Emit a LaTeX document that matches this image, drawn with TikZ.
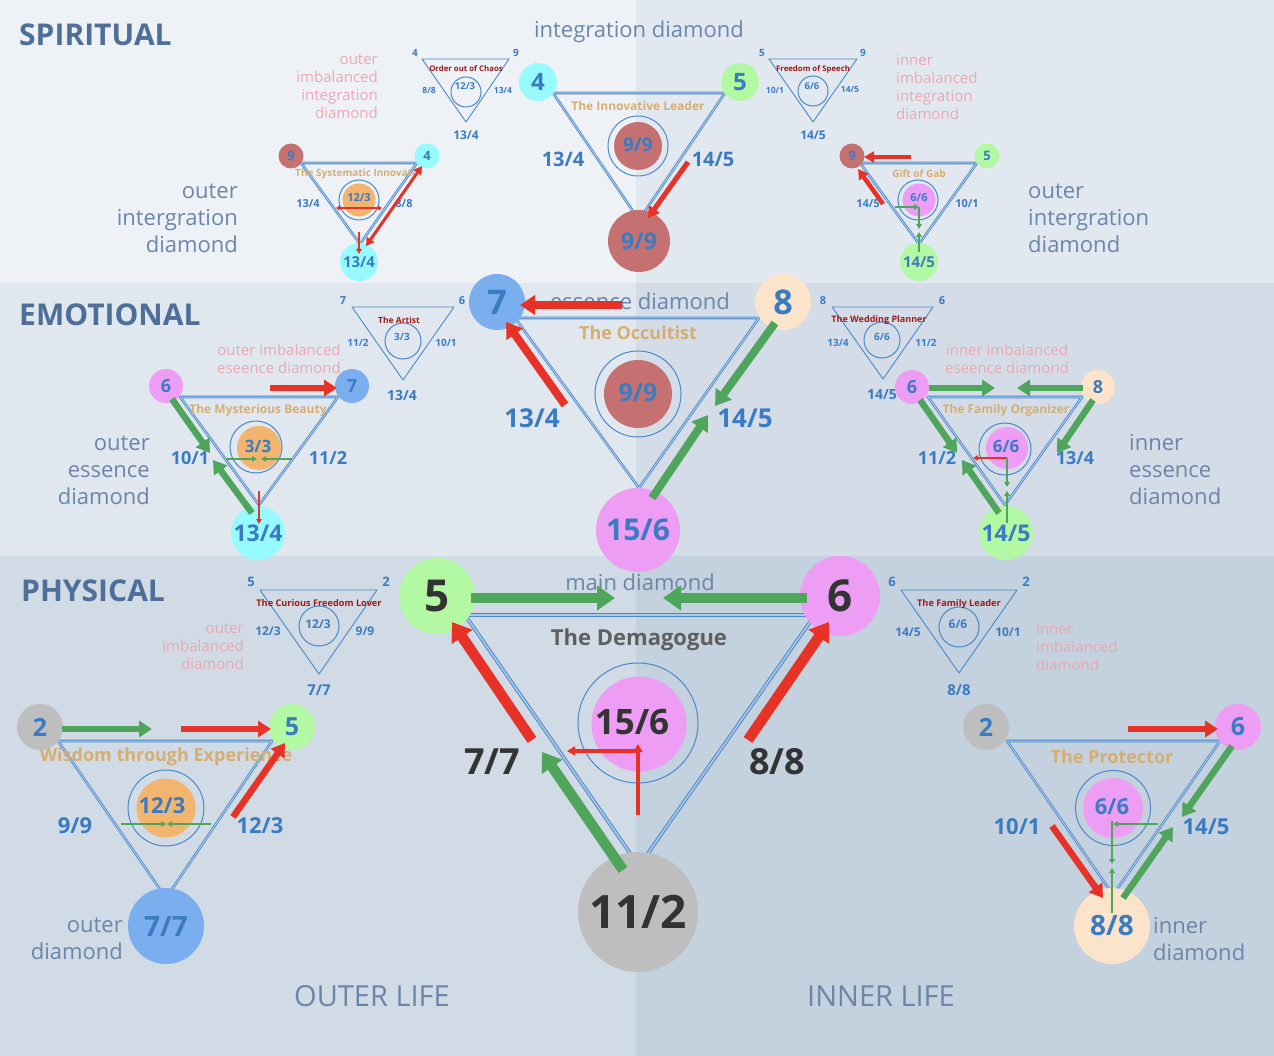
\documentclass[tikz,border=0pt]{standalone}
\usepackage{fontspec}
\setmainfont{Open Sans}
\usetikzlibrary{arrows.meta}
\definecolor{bgA}{HTML}{EEF2F7}
\definecolor{bgB}{HTML}{E2E8F0}
\definecolor{bgC}{HTML}{E0E7EF}
\definecolor{bgD}{HTML}{D4DDE7}
\definecolor{bgE}{HTML}{D1DBE5}
\definecolor{bgF}{HTML}{C4D1DE}
\definecolor{nblue}{HTML}{3A7BC2}
\definecolor{tline}{HTML}{4A88C8}
\definecolor{tantxt}{HTML}{D6AE72}
\definecolor{dred}{HTML}{9B1B1B}
\definecolor{pinklbl}{HTML}{EBA9B1}
\definecolor{slate}{HTML}{6A86A8}
\definecolor{sect}{HTML}{4E6F97}
\definecolor{rarrow}{HTML}{E63227}
\definecolor{garrow}{HTML}{4FA55B}
\definecolor{ccyan}{HTML}{96FAFF}
\definecolor{cgreen}{HTML}{B3F8A2}
\definecolor{cpink}{HTML}{EE9DF5}
\definecolor{cblue}{HTML}{7BAEEE}
\definecolor{cpeach}{HTML}{FBE4CA}
\definecolor{cgray}{HTML}{BEBEBE}
\definecolor{cdred}{HTML}{C67171}
\definecolor{corange}{HTML}{F2B56F}
\definecolor{dtext}{HTML}{333333}
\definecolor{demag}{HTML}{5F5F5F}
\newcommand\fsz[1]{\fontsize{#1}{#1}\selectfont}
\newcommand\fszl[2]{\fontsize{#1}{#2}\selectfont}
\newcommand\arrw[4]{\coordinate (#1s) at #3; \coordinate (#1e) at #4; \draw[#2] (#1s) -- (#1e);}
\newcommand\trig[5]{\coordinate (#1a) at #3; \coordinate (#1b) at #4; \coordinate (#1c) at #5; \draw[#2] (#1a) -- (#1b) -- (#1c) -- cycle;}
\tikzset{
  vc/.style={circle, inner sep=0pt, minimum size=#1, text=nblue},
  ring/.style={circle, draw=tline, line width=1pt, inner sep=0pt, minimum size=#1},
  disc/.style={circle, inner sep=0pt, minimum size=#1},
  trs/.style={draw=tline, line width=0.9pt, line join=round},
  trd/.style={draw=tline, line width=0.8pt, double=tline!45!white, double distance=1pt, line join=round},
  lbl/.style={text=nblue, inner sep=0pt},
  ttl/.style={text=tantxt, inner sep=0pt},
  rttl/.style={text=dred, inner sep=0pt},
  pnk/.style={text=pinklbl, inner sep=0pt, align=#1},
  slt/.style={text=slate, inner sep=0pt, align=#1},
  aXL/.style={line width=10.5pt, -{Triangle[length=18pt,width=24pt]}},
  aL/.style={line width=8pt, -{Triangle[length=15pt,width=19pt]}},
  aM/.style={line width=6.5pt, -{Triangle[length=13pt,width=16pt]}},
  aS/.style={line width=5pt, -{Triangle[length=11pt,width=13pt]}},
  aXS/.style={line width=3pt, -{Triangle[length=8pt,width=9pt]}},
  aT/.style={line width=1.7pt, -{Triangle[length=5pt,width=5.5pt]}},
}
\begin{document}
\begin{tikzpicture}[x=1pt,y=-1pt]
\useasboundingbox (0,0) rectangle (1274,1056);
% ---------- background bands
\fill[bgA] (0,0) rectangle (636,283);
\fill[bgB] (636,0) rectangle (1274,283);
\fill[bgC] (0,283) rectangle (636,556);
\fill[bgD] (636,283) rectangle (1274,556);
\fill[bgE] (0,556) rectangle (636,1056);
\fill[bgF] (636,556) rectangle (1274,1056);

% ---------- triangles
\trig{ti}{trd}{(553,93)}{(725,93)}{(639,220)}
\trig{toc}{trs}{(422,59)}{(509,59)}{(466,122)}
\trig{tfs}{trs}{(769,59)}{(857,59)}{(813,122)}
\trig{toi}{trd}{(301,163)}{(417,163)}{(360,244)}
\trig{tii}{trd}{(860,163)}{(977,163)}{(919,244)}
\trig{te}{trd}{(515,318)}{(759,318)}{(639,488)}
\trig{tar}{trs}{(352,307)}{(454,307)}{(403,380)}
\trig{twp}{trs}{(832,307)}{(933,307)}{(883,379)}
\trig{toe}{trd}{(180,397)}{(338,397)}{(259,505)}
\trig{tie}{trd}{(928,397)}{(1082,397)}{(1005,505)}
\trig{tm}{trd,line width=1pt,double distance=1.6pt}{(465,615)}{(815,615)}{(639,866)}
\trig{tcf}{trs}{(260,590)}{(377,590)}{(319,674)}
\trig{tfl}{trs}{(901,590)}{(1017,590)}{(959,673)}
\trig{tod}{trd}{(58,741)}{(272,741)}{(166,898)}
\trig{tid}{trd}{(1007,741)}{(1220,741)}{(1113,895)}

% ---------- rings and centre discs
\node[ring=60pt] (iRing) at (638,146) {};
\node[disc=48pt, fill=cdred] (iFill) at (638,146) {};
\node[ring=30pt] (ocRing) at (466,92) {};
\node[ring=30pt] (fsRing) at (813,91) {};
\node[ring=40pt] (oiRing) at (359,200) {};
\node[disc=33pt, fill=corange] (oiFill) at (359,200) {};
\node[ring=40pt] (iiRing) at (918,200) {};
\node[disc=33pt, fill=cpink] (iiFill) at (919,200) {};
\node[ring=86pt] (eRing) at (638,394) {};
\node[disc=68pt, fill=cdred] (eFill) at (638,394) {};
\node[ring=36pt] (arRing) at (403,341) {};
\node[ring=36pt] (wpRing) at (882,340) {};
\node[ring=52pt] (oeRing) at (256,447) {};
\node[disc=44pt, fill=corange] (oeFill) at (259,448) {};
\node[ring=52pt] (ieRing) at (1005,449) {};
\node[disc=42pt, fill=cpink] (ieFill) at (1007,448) {};
\node[ring=120pt] (mRing) at (638,723) {};
\node[disc=95pt, fill=cpink] (mFill) at (639,724) {};
\node[ring=40pt] (cfRing) at (319,626) {};
\node[ring=40pt] (flRing) at (959,627) {};
\node[ring=76pt] (odRing) at (166,808) {};
\node[disc=59pt, fill=corange] (odFill) at (166,808) {};
\node[ring=75pt] (idRing) at (1113,808) {};
\node[disc=60pt, fill=cpink] (idFill) at (1113,808) {};

% ---------- section and bottom labels
\node[anchor=west, text=sect, inner sep=0pt, font=\bfseries\fsz{30}] (sSpir) at (19,35) {SPIRITUAL};
\node[anchor=west, text=sect, inner sep=0pt, font=\bfseries\fsz{30}] (sEmo) at (19,315) {EMOTIONAL};
\node[anchor=west, text=sect, inner sep=0pt, font=\bfseries\fsz{30}] (sPhy) at (21,591) {PHYSICAL};
\node[slt=center, font=\fsz{29}] (bOut) at (372,996) {OUTER LIFE};
\node[slt=center, font=\fsz{29}] (bIn) at (881,996) {INNER LIFE};

% ---------- slate diamond names
\node[slt=center, font=\fsz{22}] (nInt) at (639,32) {integration diamond};
\node[slt=center, font=\fsz{22}] (nEss) at (640,301) {essence diamond};
\node[slt=center, font=\fsz{22}] (nMain) at (640,582) {main diamond};
\node[slt=right, anchor=east, font=\fszl{22}{27}] (nOI) at (238,218) {outer\\intergration\\diamond};
\node[slt=left, anchor=west, font=\fszl{22}{27}] (nII) at (1028,218) {outer\\intergration\\diamond};
\node[slt=right, anchor=east, font=\fszl{22}{27}] (nOE) at (150,470) {outer\\essence\\diamond};
\node[slt=left, anchor=west, font=\fszl{22}{27}] (nIE) at (1129,470) {inner\\essence\\diamond};
\node[slt=right, anchor=east, font=\fszl{22}{27}] (nOD) at (123,939) {outer\\diamond};
\node[slt=left, anchor=west, font=\fszl{22}{27}] (nID) at (1153,939) {inner\\diamond};

% ---------- pink imbalanced labels
\node[pnk=right, anchor=east, font=\fszl{15}{18}] (pOI) at (378,87) {outer\\imbalanced\\integration\\diamond};
\node[pnk=left, anchor=west, font=\fszl{15}{18}] (pII) at (896,87) {inner\\imbalanced\\integration\\diamond};
\node[pnk=center, font=\fszl{15}{18}] (pOE) at (279,359) {outer imbalanced\\eseence diamond};
\node[pnk=center, font=\fszl{15}{18}] (pIE) at (1007,359) {inner imbalanced\\eseence diamond};
\node[pnk=right, anchor=east, font=\fszl{15}{18}] (pOD) at (244,647) {outer\\imbalanced\\diamond};
\node[pnk=left, anchor=west, font=\fszl{15}{18}] (pID) at (1036,647) {inner\\imbalanced\\diamond};

% ---------- titles
\node[ttl, font=\bfseries\fsz{12}] (hInt) at (638,106) {The Innovative Leader};
\node[ttl, font=\bfseries\fsz{10}] (hOI) at (359,174) {The Systematic Innovator};
\node[ttl, font=\bfseries\fsz{10}] (hII) at (919,174) {Gift of Gab};
\node[ttl, font=\bfseries\fsz{18}] (hEss) at (638,333) {The Occultist};
\node[ttl, font=\bfseries\fsz{12}] (hOE) at (258,410) {The Mysterious Beauty};
\node[ttl, font=\bfseries\fsz{12}] (hIE) at (1006,410) {The Family Organizer};
\node[text=demag, inner sep=0pt, font=\bfseries\fsz{22}] (hMain) at (639,640) {The Demagogue};
\node[ttl, font=\bfseries\fsz{18}] (hOD) at (166,757) {Wisdom through Experience};
\node[ttl, font=\bfseries\fsz{18}] (hID) at (1112,757) {The Protector};
\node[rttl, font=\bfseries\fsz{7.8}] (hOC) at (466,69) {Order out of Chaos};
\node[rttl, font=\bfseries\fsz{7.8}] (hFS) at (813,69) {Freedom of Speech};
\node[rttl, font=\bfseries\fsz{8.5}] (hAR) at (399,320) {The Artist};
\node[rttl, font=\bfseries\fsz{9}] (hWP) at (879,320) {The Wedding Planner};
\node[rttl, font=\bfseries\fsz{9.2}] (hCF) at (319,603) {The Curious Freedom Lover};
\node[rttl, font=\bfseries\fsz{9.2}] (hFL) at (959,604) {The Family Leader};

% ---------- centre numbers
\node[lbl, font=\bfseries\fsz{19}] (cInt) at (638,145) {9/9};
\node[lbl, font=\bfseries\fsz{9.5}] (cOC) at (465,86) {12/3};
\node[lbl, font=\bfseries\fsz{9.5}] (cFS) at (812,86) {6/6};
\node[lbl, font=\bfseries\fsz{11}] (cOI) at (359,198) {12/3};
\node[lbl, font=\bfseries\fsz{11}] (cII) at (919,198) {6/6};
\node[lbl, font=\bfseries\fsz{25}] (cEss) at (638,393) {9/9};
\node[lbl, font=\bfseries\fsz{10}] (cAR) at (402,337) {3/3};
\node[lbl, font=\bfseries\fsz{10}] (cWP) at (882,337) {6/6};
\node[lbl, font=\bfseries\fsz{17}] (cOE) at (258,446) {3/3};
\node[lbl, font=\bfseries\fsz{17}] (cIE) at (1006,446) {6/6};
\node[lbl, text=dtext, font=\bfseries\fsz{35}] (cMain) at (632,722) {15/6};
\node[lbl, font=\bfseries\fsz{12}] (cCF) at (318,624) {12/3};
\node[lbl, font=\bfseries\fsz{12}] (cFL) at (958,624) {6/6};
\node[lbl, font=\bfseries\fsz{22}] (cOD) at (162,806) {12/3};
\node[lbl, font=\bfseries\fsz{22}] (cID) at (1112,807) {6/6};

% ---------- side labels
\node[lbl, font=\bfseries\fsz{20}] (lI1) at (563,159) {13/4};
\node[lbl, font=\bfseries\fsz{20}] (lI2) at (713,159) {14/5};
\node[lbl, font=\bfseries\fsz{10}] (lOC1) at (415,53) {4};
\node[lbl, font=\bfseries\fsz{10}] (lOC2) at (516,53) {9};
\node[lbl, font=\bfseries\fsz{8.5}] (lOC3) at (429,90) {8/8};
\node[lbl, font=\bfseries\fsz{8.5}] (lOC4) at (503,90) {13/4};
\node[lbl, font=\bfseries\fsz{12}] (lOC5) at (466,135) {13/4};
\node[lbl, font=\bfseries\fsz{10}] (lFS1) at (762,53) {5};
\node[lbl, font=\bfseries\fsz{10}] (lFS2) at (863,53) {9};
\node[lbl, font=\bfseries\fsz{8.5}] (lFS3) at (775,90) {10/1};
\node[lbl, font=\bfseries\fsz{8.5}] (lFS4) at (850,90) {14/5};
\node[lbl, font=\bfseries\fsz{12}] (lFS5) at (813,135) {14/5};
\node[lbl, font=\bfseries\fsz{11}] (lOI1) at (308,204) {13/4};
\node[lbl, font=\bfseries\fsz{11}] (lOI2) at (404,204) {8/8};
\node[lbl, font=\bfseries\fsz{11}] (lII1) at (868,204) {14/5};
\node[lbl, font=\bfseries\fsz{11}] (lII2) at (967,204) {10/1};
\node[lbl, font=\bfseries\fsz{26}] (lE1) at (532,418) {13/4};
\node[lbl, font=\bfseries\fsz{26}] (lE2) at (745,418) {14/5};
\node[lbl, font=\bfseries\fsz{11}] (lAR1) at (343,301) {7};
\node[lbl, font=\bfseries\fsz{11}] (lAR2) at (462,301) {6};
\node[lbl, font=\bfseries\fsz{10}] (lAR3) at (358,343) {11/2};
\node[lbl, font=\bfseries\fsz{10}] (lAR4) at (446,343) {10/1};
\node[lbl, font=\bfseries\fsz{14}] (lAR5) at (402,395) {13/4};
\node[lbl, font=\bfseries\fsz{11}] (lWP1) at (823,301) {8};
\node[lbl, font=\bfseries\fsz{11}] (lWP2) at (942,301) {6};
\node[lbl, font=\bfseries\fsz{10}] (lWP3) at (838,343) {13/4};
\node[lbl, font=\bfseries\fsz{10}] (lWP4) at (926,343) {11/2};
\node[lbl, font=\bfseries\fsz{14}] (lWP5) at (882,395) {14/5};
\node[lbl, font=\bfseries\fsz{18}] (lOE1) at (190,458) {10/1};
\node[lbl, font=\bfseries\fsz{18}] (lOE2) at (328,458) {11/2};
\node[lbl, font=\bfseries\fsz{18}] (lIE1) at (937,458) {11/2};
\node[lbl, font=\bfseries\fsz{18}] (lIE2) at (1075,458) {13/4};
\node[lbl, text=dtext, font=\bfseries\fsz{36}] (lM1) at (492,762) {7/7};
\node[lbl, text=dtext, font=\bfseries\fsz{36}] (lM2) at (777,762) {8/8};
\node[lbl, font=\bfseries\fsz{13}] (lCF1) at (251,582) {5};
\node[lbl, font=\bfseries\fsz{13}] (lCF2) at (386,582) {2};
\node[lbl, font=\bfseries\fsz{12}] (lCF3) at (268,631) {12/3};
\node[lbl, font=\bfseries\fsz{12}] (lCF4) at (365,631) {9/9};
\node[lbl, font=\bfseries\fsz{15}] (lCF5) at (319,690) {7/7};
\node[lbl, font=\bfseries\fsz{13}] (lFL1) at (892,582) {6};
\node[lbl, font=\bfseries\fsz{13}] (lFL2) at (1026,582) {2};
\node[lbl, font=\bfseries\fsz{12}] (lFL3) at (908,632) {14/5};
\node[lbl, font=\bfseries\fsz{12}] (lFL4) at (1008,632) {10/1};
\node[lbl, font=\bfseries\fsz{15}] (lFL5) at (959,690) {8/8};
\node[lbl, font=\bfseries\fsz{22}] (lOD1) at (75,826) {9/9};
\node[lbl, font=\bfseries\fsz{22}] (lOD2) at (260,826) {12/3};
\node[lbl, font=\bfseries\fsz{22}] (lID1) at (1017,827) {10/1};
\node[lbl, font=\bfseries\fsz{22}] (lID2) at (1206,827) {14/5};

% ---------- vertex circles
\node[vc=38pt, fill=ccyan, font=\bfseries\fsz{24}] (i4) at (538,82) {4};
\node[vc=38pt, fill=cgreen, font=\bfseries\fsz{24}] (i5) at (740,82) {5};
\node[vc=62pt, fill=cdred, font=\bfseries\fsz{23}] (i99) at (639,241) {9/9};
\node[vc=25pt, fill=cdred, font=\bfseries\fsz{13}] (oi9) at (291,156) {9};
\node[vc=25pt, fill=ccyan, font=\bfseries\fsz{13}] (oi4) at (427,156) {4};
\node[vc=38pt, fill=ccyan, font=\bfseries\fsz{15}] (oi134) at (359,262) {13/4};
\node[vc=25pt, fill=cdred, font=\bfseries\fsz{13}] (ii9) at (852,156) {9};
\node[vc=25pt, fill=cgreen, font=\bfseries\fsz{13}] (ii5) at (987,156) {5};
\node[vc=38pt, fill=cgreen, font=\bfseries\fsz{15}] (ii145) at (919,262) {14/5};
\node[vc=56pt, fill=cblue, font=\bfseries\fsz{34}] (e7) at (497,302) {7};
\node[vc=56pt, fill=cpeach, font=\bfseries\fsz{34}] (e8) at (783,302) {8};
\node[vc=84pt, fill=cpink, font=\bfseries\fsz{30}] (e156) at (638,530) {15/6};
\node[vc=34pt, fill=cpink, font=\bfseries\fsz{18}] (oe6) at (166,386) {6};
\node[vc=34pt, fill=cblue, font=\bfseries\fsz{18}] (oe7) at (352,386) {7};
\node[vc=54pt, fill=ccyan, font=\bfseries\fsz{23}] (oe134) at (258,533) {13/4};
\node[vc=34pt, fill=cpink, font=\bfseries\fsz{18}] (ie6) at (912,387) {6};
\node[vc=34pt, fill=cpeach, font=\bfseries\fsz{18}] (ie8) at (1098,387) {8};
\node[vc=54pt, fill=cgreen, font=\bfseries\fsz{23}] (ie145) at (1006,533) {14/5};
\node[vc=76pt, fill=cgreen, text=dtext, font=\bfseries\fsz{44}] (m5) at (437,596) {5};
\node[vc=80pt, fill=cpink, text=dtext, font=\bfseries\fsz{44}] (m6) at (840,596) {6};
\node[vc=120pt, fill=cgray, text=dtext, font=\bfseries\fsz{46}] (m112) at (638,912) {11/2};
\node[vc=46pt, fill=cgray, font=\bfseries\fsz{25}] (od2) at (40,727) {2};
\node[vc=46pt, fill=cgreen, font=\bfseries\fsz{25}] (od5) at (292,727) {5};
\node[vc=76pt, fill=cblue, font=\bfseries\fsz{28}] (od77) at (166,926) {7/7};
\node[vc=46pt, fill=cgray, font=\bfseries\fsz{25}] (id2) at (986,727) {2};
\node[vc=46pt, fill=cpink, font=\bfseries\fsz{25}] (id6) at (1238,727) {6};
\node[vc=76pt, fill=cpeach, font=\bfseries\fsz{28}] (id88) at (1112,926) {8/8};

% ---------- arrows: spiritual
\arrw{ai1}{aS,rarrow}{(688,162)}{(648,218)}
\coordinate (aoi1s) at (366,246); \coordinate (aoi1e) at (422,166);
\draw[line width=3pt, rarrow, {Triangle[length=8pt,width=9pt]}-{Triangle[length=8pt,width=9pt]}] (aoi1s) -- (aoi1e);
\arrw{aoi2}{aT,rarrow}{(359,232)}{(359,254)}
\coordinate (aoi3s) at (336,208); \coordinate (aoi3e) at (382,208);
\draw[line width=1.7pt, rarrow, {Triangle[length=4pt,width=5pt]}-{Triangle[length=4pt,width=5pt]}] (aoi3s) -- (aoi3e);
\arrw{aii1}{aXS,rarrow,line width=4.5pt,-{Triangle[length=10pt,width=11pt]}}{(911,157)}{(864,157)}
\arrw{aii2}{aXS,rarrow,line width=4.5pt,-{Triangle[length=10pt,width=11pt]}}{(883,204)}{(858,169)}
\arrw{aii3}{aT,garrow}{(895,207)}{(919,207)}
\arrw{aii4}{aT,garrow}{(919,207)}{(919,229)}
\arrw{aii5}{aT,garrow}{(919,252)}{(919,232)}

% ---------- arrows: emotional
\arrw{ae1}{aL,rarrow}{(622,305)}{(520,305)}
\arrw{ae2}{aL,rarrow}{(565,405)}{(506,322)}
\arrw{ae3}{aL,garrow}{(775,323)}{(715,406)}
\arrw{ae4}{aL,garrow}{(652,498)}{(708,415)}
\arrw{aoe1}{aM,garrow}{(172,399)}{(210,453)}
\arrw{aoe2}{aM,garrow}{(252,513)}{(213,460)}
\arrw{aoe3}{aM,rarrow}{(270,388)}{(337,388)}
\arrw{aoe4}{aT,rarrow}{(259,491)}{(259,524)}
\arrw{aoe5}{aT,garrow}{(226,459)}{(257,459)}
\arrw{aoe6}{aT,garrow}{(292,459)}{(261,459)}
\arrw{aie1}{aM,garrow}{(929,388)}{(995,388)}
\arrw{aie2}{aM,garrow}{(1083,388)}{(1017,388)}
\arrw{aie3}{aM,garrow}{(920,400)}{(957,453)}
\arrw{aie4}{aM,garrow}{(1093,400)}{(1057,453)}
\arrw{aie5}{aM,garrow}{(999,513)}{(962,460)}
\arrw{aie6}{aT,rarrow}{(1007,458)}{(973,458)}
\arrw{aie7}{aT,garrow}{(1007,458)}{(1007,487)}
\arrw{aie8}{aT,garrow}{(1007,523)}{(1007,491)}

% ---------- arrows: physical
\arrw{am1}{aXL,garrow}{(471,598)}{(615,598)}
\arrw{am2}{aXL,garrow}{(807,598)}{(663,598)}
\arrw{am3}{aXL,rarrow}{(532,740)}{(452,622)}
\arrw{am4}{aXL,garrow}{(623,870)}{(542,752)}
\arrw{am5}{aXL,rarrow}{(748,740)}{(829,622)}
\arrw{am6}{rarrow,line width=3.2pt,-{Triangle[length=8pt,width=9pt]}}{(638,815)}{(638,744)}
\arrw{am7}{rarrow,line width=3.2pt,-{Triangle[length=8pt,width=9pt]}}{(638,751)}{(567,751)}
\arrw{aod1}{aM,garrow}{(62,729)}{(152,729)}
\arrw{aod2}{aM,rarrow}{(181,729)}{(271,729)}
\arrw{aod3}{aM,rarrow}{(233,817)}{(285,743)}
\arrw{aod4}{aT,garrow}{(121,824)}{(166,824)}
\arrw{aod5}{aT,garrow}{(211,824)}{(167,824)}
\arrw{aid1}{aM,rarrow}{(1128,729)}{(1218,729)}
\arrw{aid2}{aM,garrow}{(1232,746)}{(1182,817)}
\arrw{aid3}{aM,rarrow}{(1052,826)}{(1103,898)}
\arrw{aid4}{aM,garrow}{(1123,898)}{(1173,827)}
\arrw{aid5}{aT,garrow}{(1158,824)}{(1113,824)}
\arrw{aid6}{aT,garrow}{(1112,821)}{(1112,864)}
\arrw{aid7}{aT,garrow}{(1112,913)}{(1112,868)}
\end{tikzpicture}
\end{document}
